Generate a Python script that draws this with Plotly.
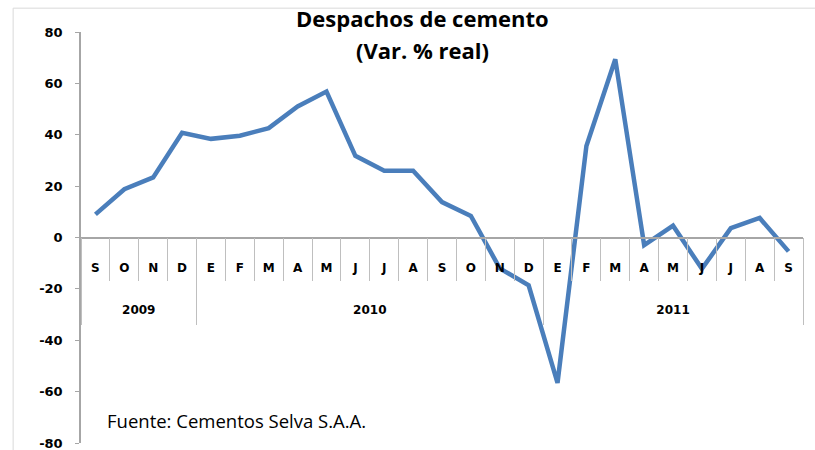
import plotly.graph_objects as go

months = ["S", "O", "N", "D", "E", "F", "M", "A", "M", "J", "J", "A", "S",
          "O", "N", "D", "E", "F", "M", "A", "M", "J", "J", "A", "S"]
years = ["2009"] * 4 + ["2010"] * 12 + ["2011"] * 9
var_real = [9.0, 18.8, 23.4, 40.8, 38.4, 39.6, 42.6, 51.0, 56.8, 31.8, 26.0, 26.0,
            13.8, 8.4, -12.0, -18.6, -56.6, 35.6, 69.4, -3.0, 4.6, -12.2, 3.6, 7.6, -5.4]
y_ticks = [-80, -60, -40, -20, 0, 20, 40, 60, 80]

BLUE = "#4a7ebb"
AXIS = "#a6a6a6"
SEP = "#bfbfbf"
TICKFONT = dict(family="DejaVu Sans", size=12, color="black", weight="bold")

idx = list(range(len(months)))

# year groups: centre of each span and the boundaries between them
year_names = []
for y in years:
    if y not in year_names:
        year_names.append(y)
year_centres = []
year_bounds = [-0.5]
for y in year_names:
    pos = [i for i, v in enumerate(years) if v == y]
    year_centres.append((pos[0] + pos[-1]) / 2)
    year_bounds.append(pos[-1] + 0.5)

fig = go.Figure()
fig.add_trace(go.Scatter(
    x=idx, y=var_real, mode="lines",
    line=dict(color=BLUE, width=4.5),
    showlegend=False, hoverinfo="y",
))
# dummy trace so the year axis gets drawn
fig.add_trace(go.Scatter(x=[idx[0]], y=[None], xaxis="x2", showlegend=False, hoverinfo="skip"))

fig.update_layout(
    width=815, height=450,
    margin=dict(l=81, r=12, t=32, b=7),
    paper_bgcolor="white", plot_bgcolor="white",
    xaxis=dict(
        range=[-0.5, len(months) - 0.5],
        anchor="free", position=0.5,
        showline=True, linecolor=AXIS, linewidth=1.5,
        showgrid=False, zeroline=False,
        tickmode="array", tickvals=idx, ticktext=months,
        ticks="", tickfont=TICKFONT, ticklabelstandoff=19,
        minor=dict(tickmode="array", tickvals=[i - 0.5 for i in idx] + [len(months) - 0.5],
                   ticks="outside", ticklen=43, tickcolor=SEP, tickwidth=1, showgrid=False),
        automargin=False,
    ),
    xaxis2=dict(
        overlaying="x", matches="x",
        anchor="free", position=0.5,
        showline=False, showgrid=False, zeroline=False,
        tickmode="array", tickvals=year_centres, ticktext=year_names,
        ticks="", tickfont=TICKFONT, ticklabelstandoff=63,
        minor=dict(tickmode="array", tickvals=year_bounds,
                   ticks="outside", ticklen=86, tickcolor=SEP, tickwidth=1, showgrid=False),
        automargin=False,
    ),
    yaxis=dict(
        range=[-80, 80], tickmode="array", tickvals=y_ticks,
        ticktext=[str(v) for v in y_ticks],  # plain hyphen, like the original
        showline=True, linecolor=AXIS, linewidth=1.5,
        ticks="outside", ticklen=4, tickcolor=AXIS,
        showgrid=False, zeroline=False,
        tickfont=dict(TICKFONT, size=13), ticklabelstandoff=10, ticklabeloverflow="allow",
        automargin=False,
    ),
    shapes=[dict(
        type="rect", xref="paper", yref="paper",
        x0=-0.094, x1=1.05, y0=-0.2, y1=1.058,
        line=dict(color="#d9d9d9", width=1), fillcolor="rgba(0,0,0,0)", layer="below",
    )],
    annotations=[
        dict(text="<b>Despachos de cemento</b>", xref="paper", yref="paper",
             x=0.473, y=1.034, showarrow=False, xanchor="center", yanchor="middle",
             font=dict(family="Open Sans", size=22, color="black")),
        dict(text="<b>(Var. % real)</b>", xref="paper", yref="paper",
             x=0.473, y=0.956, showarrow=False, xanchor="center", yanchor="middle",
             font=dict(family="Open Sans", size=22, color="black")),
        dict(text="Fuente: Cementos Selva S.A.A.", xref="paper", yref="paper",
             x=0.033, y=0.054, showarrow=False, xanchor="left", yanchor="middle",
             font=dict(family="Open Sans", size=18.5, color="black")),
    ],
)

# drop the default 8px body margin so the figure sits at the page corner
fig.write_html("out.html", config={"displayModeBar": False},
               post_script="document.body.style.margin = '0';")
